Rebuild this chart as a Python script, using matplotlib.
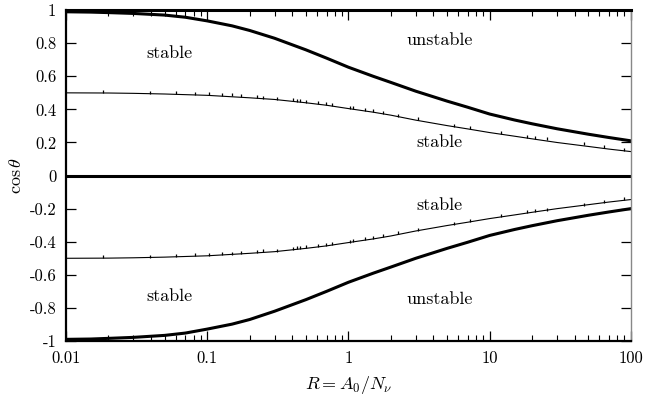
import matplotlib
matplotlib.use("Agg")
import matplotlib.pyplot as plt
from matplotlib.ticker import FixedLocator, FixedFormatter, LogLocator, NullFormatter

plt.rcParams["font.family"] = "serif"
plt.rcParams["font.serif"] = ["cmr10"]
plt.rcParams["mathtext.fontset"] = "cm"
plt.rcParams["axes.unicode_minus"] = False
plt.rcParams["axes.formatter.use_mathtext"] = True

# thick boundary curves
r_bound = [0.01, 0.015, 0.02, 0.03, 0.05, 0.07, 0.1, 0.15, 0.2, 0.3, 0.5, 0.7, 1,
           1.5, 2, 3, 5, 7, 10, 15, 20, 30, 50, 70, 100]
upper_bound = [0.99, 0.988, 0.985, 0.98, 0.97, 0.957, 0.935, 0.905, 0.877, 0.83, 0.76, 0.71, 0.655,
               0.6, 0.563, 0.51, 0.45, 0.413, 0.372, 0.336, 0.313, 0.283, 0.25, 0.23, 0.21]
lower_bound = [-0.99, -0.988, -0.984, -0.978, -0.966, -0.952, -0.928, -0.898, -0.87, -0.82, -0.75, -0.7, -0.645,
               -0.59, -0.553, -0.5, -0.44, -0.403, -0.362, -0.326, -0.303, -0.273, -0.24, -0.22, -0.2]

# thin stable-branch curves
r_branch = [0.01, 0.02, 0.03, 0.05, 0.1, 0.2, 0.3, 0.5, 0.7, 1, 1.5, 2, 3, 5, 7, 10,
            15, 20, 30, 50, 70, 100]
upper_branch = [0.5, 0.499, 0.497, 0.493, 0.485, 0.47, 0.46, 0.44, 0.425, 0.405, 0.383, 0.365,
                0.335, 0.302, 0.282, 0.26, 0.238, 0.222, 0.2, 0.176, 0.16, 0.145]
lower_branch = [-0.5, -0.499, -0.497, -0.493, -0.485, -0.47, -0.46, -0.44, -0.425, -0.405, -0.383, -0.365,
                -0.335, -0.302, -0.282, -0.26, -0.238, -0.222, -0.2, -0.176, -0.16, -0.145]

# simulation points
r_pts = [0.0183, 0.0394, 0.0603, 0.0823, 0.103, 0.127, 0.150, 0.174, 0.225, 0.249,
         0.313, 0.406, 0.434, 0.456, 0.505, 0.613, 0.699, 0.770, 1.03, 1.08,
         1.32, 1.50, 1.77, 2.26, 3.1, 5.6, 7.3, 12.1, 18.5, 21.1, 25.6, 46.5, 64.4, 89]
upper_pts = [0.499, 0.496, 0.493, 0.489, 0.485, 0.481, 0.478, 0.474, 0.467, 0.465,
             0.459, 0.449, 0.446, 0.444, 0.44, 0.432, 0.425, 0.42, 0.405, 0.402,
             0.39, 0.382, 0.372, 0.355, 0.333, 0.296, 0.279, 0.252, 0.228, 0.222, 0.212, 0.182, 0.165, 0.15]
lower_pts = [-0.499, -0.496, -0.493, -0.489, -0.485, -0.481, -0.478, -0.474, -0.467, -0.465,
             -0.459, -0.449, -0.446, -0.444, -0.44, -0.432, -0.425, -0.42, -0.405, -0.402,
             -0.39, -0.382, -0.372, -0.355, -0.333, -0.296, -0.279, -0.252, -0.228, -0.222, -0.212, -0.182, -0.165, -0.15]

x_ticks = [0.01, 0.1, 1, 10, 100]
x_labels = ["0.01", "0.1", "1", "10", "100"]
y_ticks = [-1, -0.8, -0.6, -0.4, -0.2, 0, 0.2, 0.4, 0.6, 0.8, 1]
y_labels = ["-1", "-0.8", "-0.6", "-0.4", "-0.2", "0", "0.2", "0.4", "0.6", "0.8", "1"]

fig = plt.figure(figsize=(6.45, 4.05), dpi=100)
ax = fig.add_axes([0.1023, 0.158, 0.8757, 0.817])

ax.plot(r_bound, upper_bound, color="black", lw=2.2)
ax.plot(r_bound, lower_bound, color="black", lw=2.2)
ax.plot(r_branch, upper_branch, color="black", lw=0.8)
ax.plot(r_branch, lower_branch, color="black", lw=0.8)
ax.plot(r_pts, upper_pts, ls="none", marker=2, ms=2.2, mew=0.9, color="black")
ax.plot(r_pts, lower_pts, ls="none", marker=2, ms=2.2, mew=0.9, color="black")
ax.axhline(0, color="black", lw=2.2)

ax.set_xscale("log")
ax.set_xlim(0.01, 100)
ax.set_ylim(-1, 1)

ax.xaxis.set_major_locator(FixedLocator(x_ticks))
ax.xaxis.set_major_formatter(FixedFormatter(x_labels))
ax.xaxis.set_minor_locator(LogLocator(base=10, subs=range(2, 10)))
ax.xaxis.set_minor_formatter(NullFormatter())
ax.yaxis.set_major_locator(FixedLocator(y_ticks))
ax.yaxis.set_major_formatter(FixedFormatter(y_labels))

ax.tick_params(which="major", direction="in", length=7, width=0.9, top=True, right=True,
               labelsize=12, pad=7)
ax.tick_params(which="minor", direction="in", length=4, width=0.8, top=True, right=False)

for side in ["left", "bottom"]:
    ax.spines[side].set_linewidth(1.6)
ax.spines["top"].set_linewidth(2.2)
ax.spines["right"].set_linewidth(1.0)
ax.spines["right"].set_color("#888888")

ax.set_xlabel(r"$R = A_0/N_\nu$", fontsize=13, labelpad=6)
ax.set_ylabel(r"$\cos\theta$", fontsize=13, labelpad=4)

ax.text(0.054, 0.74, "stable", fontsize=13, ha="center", va="center")
ax.text(0.054, -0.73, "stable", fontsize=13, ha="center", va="center")
ax.text(4.4, 0.82, "unstable", fontsize=13, ha="center", va="center")
ax.text(4.4, -0.75, "unstable", fontsize=13, ha="center", va="center")
ax.text(4.4, 0.2, "stable", fontsize=13, ha="center", va="center")
ax.text(4.4, -0.18, "stable", fontsize=13, ha="center", va="center")

fig.savefig("out.png", dpi=100)
